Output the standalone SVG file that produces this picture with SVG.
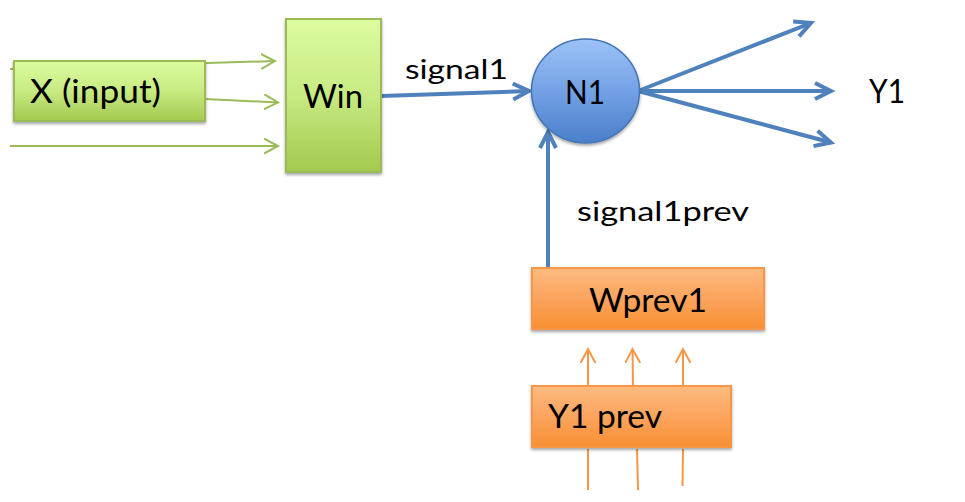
<svg xmlns="http://www.w3.org/2000/svg" width="965" height="502" viewBox="0 0 965 502">
<style>
  .lbl { font-family: Lato, "Open Sans", "Liberation Sans", sans-serif; font-size: 33px; fill: #000; }
  .small { font-family: Lato, "Open Sans", "Liberation Sans", sans-serif; font-size: 26px; fill: #000; }
  .green { stroke: #9bbb59; stroke-width: 2; fill: none; }
  .blue { stroke: #4f81bd; stroke-width: 4; fill: none; }
  .orange { stroke: #f79646; stroke-width: 2; fill: none; }
  .gbox { fill: url(#gGreen); stroke: #9bbb59; stroke-width: 2; filter: url(#shadow); }
  .obox { fill: url(#gOrange); stroke: #f79646; stroke-width: 2; filter: url(#shadow); }
</style>
<defs>
  <linearGradient id="gGreen" x1="0" y1="0" x2="0" y2="1">
    <stop offset="0" stop-color="#dcfc9f"/>
    <stop offset="0.5" stop-color="#c8ea82"/>
    <stop offset="1" stop-color="#a3c94e"/>
  </linearGradient>
  <linearGradient id="gOrange" x1="0" y1="0" x2="0" y2="1">
    <stop offset="0" stop-color="#fdbb7f"/>
    <stop offset="0.5" stop-color="#fba45e"/>
    <stop offset="1" stop-color="#f88f32"/>
  </linearGradient>
  <linearGradient id="gBlue" x1="0" y1="0" x2="0" y2="1">
    <stop offset="0" stop-color="#9cc2f7"/>
    <stop offset="0.5" stop-color="#73a1e4"/>
    <stop offset="1" stop-color="#4a7fca"/>
  </linearGradient>
  <filter id="shadow" x="-10%" y="-10%" width="120%" height="130%">
    <feDropShadow dx="0" dy="2" stdDeviation="1.5" flood-color="#000" flood-opacity="0.35"/>
  </filter>
  <marker id="mGreen" markerUnits="userSpaceOnUse" markerWidth="18" markerHeight="20" refX="14" refY="8" orient="auto">
    <path d="M0,0.5 L14,8 L0,15.5" fill="none" stroke="#9bbb59" stroke-width="2"/>
  </marker>
  <marker id="mBlue" markerUnits="userSpaceOnUse" markerWidth="22" markerHeight="22" refX="17" refY="10" orient="auto">
    <path d="M1,2 L17,10 L1,18" fill="none" stroke="#4f81bd" stroke-width="4"/>
  </marker>
  <marker id="mOrange" markerUnits="userSpaceOnUse" markerWidth="18" markerHeight="20" refX="14" refY="8" orient="auto">
    <path d="M0,0.5 L14,8 L0,15.5" fill="none" stroke="#f79646" stroke-width="2"/>
  </marker>
</defs>

<g id="connectors">
  <line class="green" x1="10" y1="69" x2="275" y2="61" marker-end="url(#mGreen)"/>
  <line class="green" x1="205" y1="99" x2="278" y2="102.5" marker-end="url(#mGreen)"/>
  <line class="green" x1="10" y1="146" x2="278" y2="146" marker-end="url(#mGreen)"/>
  <line class="blue" x1="381" y1="96" x2="529" y2="91" marker-end="url(#mBlue)"/>
  <line class="blue" x1="638" y1="91" x2="811" y2="23" marker-end="url(#mBlue)"/>
  <line class="blue" x1="638" y1="91" x2="831" y2="91" marker-end="url(#mBlue)"/>
  <line class="blue" x1="638" y1="91" x2="831" y2="142.5" marker-end="url(#mBlue)"/>
  <line class="blue" x1="548" y1="268" x2="548" y2="132" marker-end="url(#mBlue)"/>
  <line class="orange" x1="588" y1="386" x2="588" y2="349" marker-end="url(#mOrange)"/>
  <line class="orange" x1="633" y1="386" x2="632.5" y2="349" marker-end="url(#mOrange)"/>
  <line class="orange" x1="683" y1="386" x2="683" y2="349" marker-end="url(#mOrange)"/>
  <line class="orange" x1="588" y1="449" x2="588" y2="490"/>
  <line class="orange" x1="637" y1="449" x2="638" y2="490"/>
  <line class="orange" x1="683" y1="449" x2="682.5" y2="486"/>
</g>

<g id="x-input">
  <rect class="gbox" x="14" y="61" width="191" height="60"/>
  <text class="lbl" x="30" y="103" textLength="131" lengthAdjust="spacingAndGlyphs">X (input)</text>
</g>

<g id="win">
  <rect class="gbox" x="286" y="19" width="95" height="153"/>
  <text class="lbl" x="303" y="108" textLength="60" lengthAdjust="spacingAndGlyphs">Win</text>
</g>

<g id="signal1-label">
  <text class="small" x="405" y="79" textLength="103" lengthAdjust="spacingAndGlyphs">signal1</text>
</g>

<g id="n1">
  <ellipse cx="585.5" cy="91" rx="54" ry="52" fill="url(#gBlue)" stroke="#4374b3" stroke-width="1.5" filter="url(#shadow)"/>
  <text class="lbl" x="565" y="104" textLength="40" lengthAdjust="spacingAndGlyphs">N1</text>
</g>

<g id="y1">
  <text class="lbl" x="869" y="103" textLength="36" lengthAdjust="spacingAndGlyphs">Y1</text>
</g>

<g id="signal1prev-label">
  <text class="small" x="577" y="221" textLength="172" lengthAdjust="spacingAndGlyphs">signal1prev</text>
</g>

<g id="wprev1">
  <rect class="obox" x="532" y="268" width="232" height="61"/>
  <text class="lbl" x="589" y="312" textLength="118" lengthAdjust="spacingAndGlyphs">Wprev1</text>
</g>

<g id="y1prev">
  <rect class="obox" x="532" y="386" width="199" height="61"/>
  <text class="lbl" x="548" y="428" textLength="114" lengthAdjust="spacingAndGlyphs">Y1 prev</text>
</g>
</svg>
